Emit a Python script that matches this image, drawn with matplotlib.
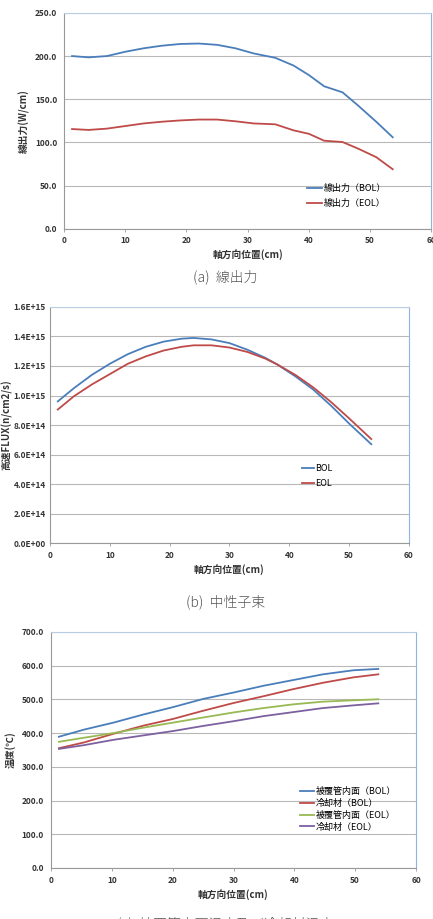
import matplotlib.pyplot as plt

plt.rcParams['font.family'] = ['Noto Sans CJK JP', 'DejaVu Sans']

# (a) 線出力
pos_a = [1.3, 4, 7, 10, 13, 16, 19, 22, 25, 28, 31, 34.5, 37.5, 40, 42.5, 45.5, 48, 51, 53.7]
lin_bol = [200, 198.5, 200, 205, 209, 212, 214, 214.5, 213, 209, 203, 198, 189, 178, 165, 158, 143, 124, 106]
lin_eol = [115.5, 114.5, 116, 119, 122, 124, 125.5, 126.5, 126.5, 124.5, 122, 121, 114, 110, 102, 100.5, 93, 83, 69]

# (b) 中性子束
pos_b = [1.3, 4, 7, 10, 13, 16, 19, 22, 24, 27, 30, 33, 36, 38, 41, 44, 47, 50, 53.7]
flux_bol = [9.6e14, 1.05e15, 1.14e15, 1.215e15, 1.28e15, 1.33e15, 1.365e15, 1.385e15, 1.39e15,
            1.38e15, 1.355e15, 1.31e15, 1.255e15, 1.21e15, 1.13e15, 1.04e15, 0.93e15, 0.81e15, 0.67e15]
flux_eol = [9.05e14, 9.95e14, 1.075e15, 1.145e15, 1.215e15, 1.265e15, 1.305e15, 1.33e15, 1.34e15,
            1.34e15, 1.325e15, 1.295e15, 1.25e15, 1.21e15, 1.14e15, 1.055e15, 0.955e15, 0.845e15, 0.705e15]

# (c) 温度
pos_c = [1.3, 5.4, 10.3, 15.2, 20.1, 25, 30, 34.9, 39.8, 44.7, 49.7, 53.8]
clad_bol = [389, 410, 431, 455, 477, 501, 520, 540, 557, 574, 586, 590]
cool_bol = [355, 372, 398, 422, 442, 466, 489, 509, 530, 549, 565, 574]
clad_eol = [374, 386, 400, 416, 431, 446, 461, 474, 485, 493, 497, 500]
cool_eol = [353, 364, 380, 393, 406, 421, 435, 450, 462, 474, 482, 488]

xticks = [0, 10, 20, 30, 40, 50, 60]
xlabel = '軸方向位置(cm)'

c_blue = '#4a7ebb'
c_red = '#be4b48'
c_green = '#98b954'
c_purple = '#7d60a0'

fig = plt.figure(figsize=(4.33, 9.19), dpi=100)


def style(ax, ylim, yticks, ylabels):
    ax.set_xlim(0, 60)
    ax.set_ylim(*ylim)
    ax.set_xticks(xticks)
    ax.set_xticklabels([str(t) for t in xticks], fontsize=6, fontweight='bold', color='#333333')
    ax.set_yticks(yticks)
    ax.set_yticklabels(ylabels, fontsize=6, fontweight='bold', color='#333333')
    ax.grid(axis='y', color='#b8b8b8', lw=0.8)
    ax.set_axisbelow(True)
    ax.spines['left'].set_color('#999999')
    ax.spines['bottom'].set_color('#999999')
    ax.spines['top'].set_color('#b8cce4')
    ax.spines['right'].set_color('#8eb4e3')
    ax.tick_params(axis='x', length=2.5, width=0.6, color='#999999', pad=3)
    ax.tick_params(axis='y', length=0, pad=5)
    ax.set_xlabel(xlabel, fontsize=7, fontweight='bold', color='#333333', labelpad=3)


# panel a
ax1 = fig.add_axes([0.148, 0.751, 0.848, 0.235])
ax1.plot(pos_a, lin_bol, color=c_blue, lw=1.3, label='線出力（BOL）')
ax1.plot(pos_a, lin_eol, color=c_red, lw=1.3, label='線出力（EOL）')
style(ax1, (0, 250), [0, 50, 100, 150, 200, 250],
      ['0.0', '50.0', '100.0', '150.0', '200.0', '250.0'])
ax1.set_ylabel('線出力(W/cm)', fontsize=7, fontweight='bold', color='#333333', labelpad=4)
ax1.legend(loc='lower left', bbox_to_anchor=(0.64, 0.06), frameon=False, fontsize=6.5,
           handlelength=1.6, handletextpad=0.2, labelspacing=0.6)
fig.text(0.52, 1 - 277 / 919, '(a)  線出力', ha='center', va='center', fontsize=10,
         color='#555555', fontweight='light')

# panel b
ax2 = fig.add_axes([0.1155, 0.409, 0.829, 0.257])
ax2.plot(pos_b, flux_bol, color=c_blue, lw=1.3, label='BOL')
ax2.plot(pos_b, flux_eol, color=c_red, lw=1.3, label='EOL')
fticks = [0, 2e14, 4e14, 6e14, 8e14, 1e15, 1.2e15, 1.4e15, 1.6e15]
flabels = ['0.0E+00', '2.0E+14', '4.0E+14', '6.0E+14', '8.0E+14', '1.0E+15', '1.2E+15', '1.4E+15', '1.6E+15']
style(ax2, (0, 1.6e15), fticks, flabels)
ax2.tick_params(axis='y', pad=3)
ax2.set_ylabel('高速FLUX(n/cm2/s)', fontsize=7, fontweight='bold', color='#333333', labelpad=1)
ax2.legend(loc='lower left', bbox_to_anchor=(0.68, 0.20), frameon=False, fontsize=6.5,
           handlelength=1.3, handletextpad=0.1, labelspacing=0.6)
fig.text(0.52, 1 - 602 / 919, '(b)  中性子束', ha='center', va='center', fontsize=10,
         color='#555555', fontweight='light')

# panel c
ax3 = fig.add_axes([0.1178, 0.0555, 0.843, 0.257])
ax3.plot(pos_c, clad_bol, color=c_blue, lw=1.3, label='被覆管内面（BOL）')
ax3.plot(pos_c, cool_bol, color=c_red, lw=1.3, label='冷却材（BOL）')
ax3.plot(pos_c, clad_eol, color=c_green, lw=1.3, label='被覆管内面（EOL）')
ax3.plot(pos_c, cool_eol, color=c_purple, lw=1.3, label='冷却材（EOL）')
style(ax3, (0, 700), [0, 100, 200, 300, 400, 500, 600, 700],
      ['0.0', '100.0', '200.0', '300.0', '400.0', '500.0', '600.0', '700.0'])
ax3.set_ylabel('温度(℃)', fontsize=7, fontweight='bold', color='#333333', labelpad=4)
ax3.legend(loc='lower left', bbox_to_anchor=(0.66, 0.12), frameon=False, fontsize=6.5,
           handlelength=1.6, handletextpad=0.1, labelspacing=0.3)
# caption of (c) runs off the bottom edge in the reference
fig.text(0.52, 3 / 919, '(c)  被覆管内面温度及び冷却材温度', ha='center', va='top',
         fontsize=10, color='#555555', fontweight='light')

fig.savefig('out.png', dpi=100)
